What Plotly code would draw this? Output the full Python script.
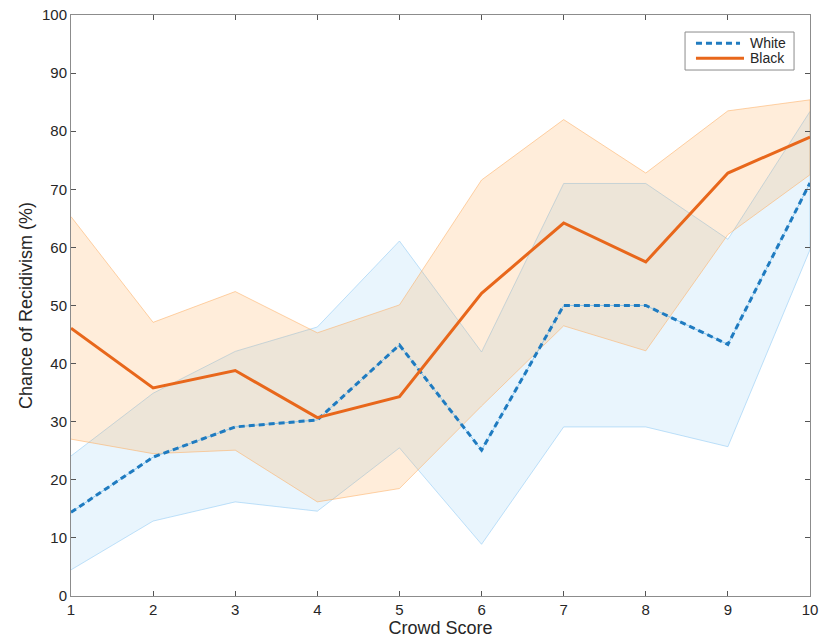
import plotly.graph_objects as go

# Crowd score bins and recidivism rates (%) with confidence bands
crowd_score = [1, 2, 3, 4, 5, 6, 7, 8, 9, 10]

white_mean = [14.4, 23.9, 29.1, 30.3, 43.2, 25.1, 50.0, 50.0, 43.3, 71.1]
white_upper = [24.1, 34.9, 42.1, 46.3, 61.1, 42.0, 71.0, 71.0, 61.4, 83.4]
white_lower = [4.5, 12.9, 16.2, 14.6, 25.5, 8.9, 29.1, 29.1, 25.7, 59.6]

black_mean = [46.1, 35.8, 38.8, 30.7, 34.3, 52.1, 64.2, 57.5, 72.8, 79.0]
black_upper = [65.3, 47.1, 52.4, 45.3, 50.1, 71.6, 82.0, 72.8, 83.5, 85.4]
black_lower = [27.0, 24.5, 25.1, 16.2, 18.5, 32.7, 46.5, 42.2, 62.2, 72.5]

y_ticks = list(range(0, 101, 10))
group_names = ["White", "Black"]

FONT = "Liberation Sans, Arial, Helvetica, sans-serif"
TEXT = "#262626"
WHITE_COLOR = "#1f7bc0"
BLACK_COLOR = "#e8671b"
WHITE_DASH = "6px,4px"

fig = go.Figure()


def add_band(upper, lower, fill, edge):
    fig.add_trace(go.Scatter(
        x=crowd_score + crowd_score[::-1],
        y=upper + lower[::-1],
        fill="toself", fillcolor=fill,
        line=dict(color=edge, width=1),
        mode="lines", hoverinfo="skip", showlegend=False,
    ))


# confidence bands: white group underneath, black group on top
add_band(white_upper, white_lower, "rgba(110,185,240,0.15)", "rgba(150,205,245,0.6)")
add_band(black_upper, black_lower, "rgba(253,160,60,0.19)", "rgba(253,175,100,0.55)")

# thin guide under the dashed white-group line
fig.add_trace(go.Scatter(
    x=crowd_score, y=white_mean, mode="lines",
    line=dict(color="rgba(120,190,235,0.8)", width=1),
    hoverinfo="skip", showlegend=False,
))
fig.add_trace(go.Scatter(
    x=crowd_score, y=white_mean, mode="lines", name=group_names[0],
    line=dict(color=WHITE_COLOR, width=3, dash=WHITE_DASH), showlegend=False,
))
fig.add_trace(go.Scatter(
    x=crowd_score, y=black_mean, mode="lines", name=group_names[1],
    line=dict(color=BLACK_COLOR, width=3), showlegend=False,
))

axis_common = dict(
    showline=True, linecolor="#8c8c8c", linewidth=1, mirror="allticks",
    ticks="inside", ticklen=5, tickcolor="#555555",
    showgrid=False, zeroline=False, automargin=False,
    tickfont=dict(family=FONT, size=15, color=TEXT),
)

fig.update_xaxes(
    range=[1, 10], tickmode="array", tickvals=crowd_score,
    title=dict(text="Crowd Score", font=dict(family=FONT, size=18, color=TEXT), standoff=2),
    **axis_common,
)
fig.update_yaxes(
    range=[0, 100], tickmode="array", tickvals=y_ticks,
    title=dict(text="Chance of Recidivism (%)", font=dict(family=FONT, size=18, color=TEXT), standoff=4),
    **axis_common,
)

# legend box drawn in paper coordinates (top-right corner of the axes)
lx0, lx1, ly0, ly1 = 0.8309, 0.9784, 0.9053, 0.9707
row_y = [0.9513, 0.9255]
sample_x = [(0.8457, 0.9053), (0.8457, 0.9107)]
text_x = 0.9188
fig.add_shape(type="rect", xref="paper", yref="paper",
              x0=lx0, x1=lx1, y0=ly0, y1=ly1,
              line=dict(color="#8c8c8c", width=1), fillcolor="white", layer="above")
legend_styles = [(WHITE_COLOR, WHITE_DASH), (BLACK_COLOR, "solid")]
for name, (c, d), yy, (sx0, sx1) in zip(group_names, legend_styles, row_y, sample_x):
    fig.add_shape(type="line", xref="paper", yref="paper",
                  x0=sx0, x1=sx1, y0=yy, y1=yy,
                  line=dict(color=c, width=3, dash=d), layer="above")
    fig.add_annotation(xref="paper", yref="paper", x=text_x, y=yy,
                       text=name, showarrow=False, xanchor="left", yanchor="middle",
                       xshift=-2, font=dict(family=FONT, size=14, color=TEXT))

fig.update_layout(
    width=820, height=641,
    margin=dict(l=71, r=10, t=15, b=45),
    paper_bgcolor="white", plot_bgcolor="white",
    font=dict(family=FONT, color=TEXT),
    showlegend=False,
)

fig.write_html("out.html")
